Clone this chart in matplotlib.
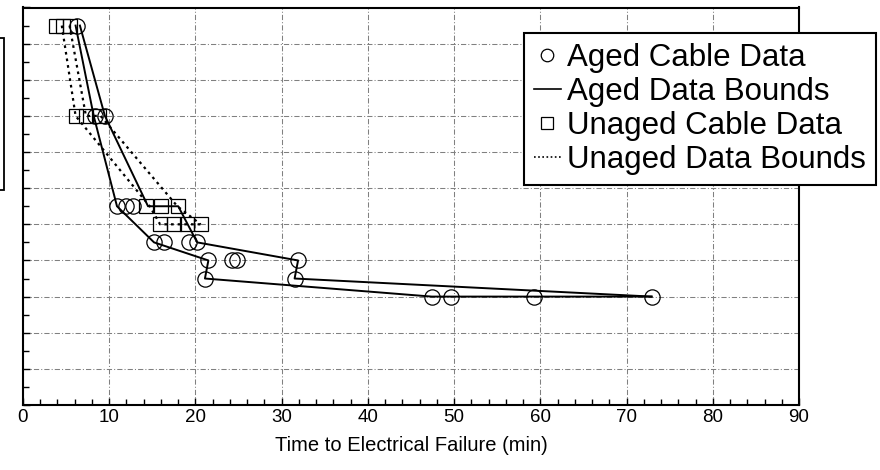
import matplotlib
matplotlib.use('Agg')
import matplotlib.pyplot as plt
from matplotlib import font_manager
from matplotlib.lines import Line2D
from matplotlib.patches import Rectangle
from matplotlib.ticker import MultipleLocator, NullFormatter

plt.rcParams['font.family'] = ['Liberation Sans', 'DejaVu Sans']
installed = {f.name for f in font_manager.fontManager.ttflist}
if 'Liberation Sans Narrow' in installed:
    tick_font, tick_size = 'Liberation Sans Narrow', 15
else:
    tick_font, tick_size = 'Liberation Sans', 13.5

# aged cable data (circles)
aged_x = [6.3, 8.3, 9.5, 10.9, 12.0, 12.7, 15.2, 16.3, 19.2, 20.2,
          21.5, 24.2, 24.8, 31.9, 21.1, 31.5, 47.4, 49.6, 59.3, 72.9]
aged_y = [10.5, 8, 8, 5.5, 5.5, 5.5, 4.5, 4.5, 4.5, 4.5,
          4, 4, 4, 4, 3.5, 3.5, 3, 3, 3, 3]

# unaged cable data (squares)
unaged_x = [3.8, 4.6, 5.4, 6.1, 7.3, 8.8, 14.3, 16.0, 18.0, 15.9, 17.5, 19.0, 20.6]
unaged_y = [10.5, 10.5, 10.5, 8, 8, 8, 5.5, 5.5, 5.5, 5, 5, 5, 5]

# aged data bounds
aged_lo_x = [6.1, 8.2, 10.9, 15.2, 21.5, 21.1, 47.4, 72.9]
aged_lo_y = [10.5, 8, 5.5, 4.5, 4.0, 3.5, 3.0, 3.0]
aged_hi_x = [6.6, 9.5, 14.5, 18.0, 20.2, 31.9, 31.5, 72.9]
aged_hi_y = [10.5, 8, 5.5, 5.5, 4.5, 4.0, 3.5, 3.0]

# unaged data bounds
unaged_lo_x = [4.5, 6.1, 14.7, 15.9, 20.6]
unaged_lo_y = [10.5, 8, 5.5, 5.0, 5.0]
unaged_hi_x = [5.4, 7.3, 9.0, 17.9, 20.6]
unaged_hi_y = [10.5, 8, 8, 5.5, 5.0]

x_ticks = [0, 10, 20, 30, 40, 50, 60, 70, 80, 90]

fig = plt.figure(figsize=(8.8, 4.7), dpi=100)
ax = fig.add_axes([23/880, 65/470, 776/880, 397.5/470])

ax.plot(aged_lo_x, aged_lo_y, color='black', lw=1.4)
ax.plot(aged_hi_x, aged_hi_y, color='black', lw=1.4)
ax.plot(unaged_lo_x, unaged_lo_y, color='black', lw=1.6, ls=(0, (1.2, 1.8)))
ax.plot(unaged_hi_x, unaged_hi_y, color='black', lw=1.6, ls=(0, (1.2, 1.8)))
ax.plot(aged_x, aged_y, ls='none', marker='o', ms=11, mfc='none', mec='black', mew=0.9)
ax.plot(unaged_x, unaged_y, ls='none', marker='s', ms=9.5, mfc='none', mec='black', mew=0.9)

ax.set_xlim(0, 90)
ax.set_ylim(0, 11)
ax.set_xticks(x_ticks)
ax.xaxis.set_minor_locator(MultipleLocator(2))
ax.yaxis.set_major_locator(MultipleLocator(1))
ax.yaxis.set_minor_locator(MultipleLocator(0.5))
ax.yaxis.set_major_formatter(NullFormatter())
ax.tick_params(which='both', direction='in', top=False, right=False)
ax.tick_params(which='major', length=5, width=1)
ax.tick_params(which='minor', length=4, width=1)
ax.tick_params(axis='x', pad=3)
for lab in ax.get_xticklabels():
    lab.set_family([tick_font, 'DejaVu Sans'])
    lab.set_fontsize(tick_size)
ax.grid(True, which='major', color='#808080', lw=0.75, ls=(0, (5, 2, 1, 2)))
for s in ax.spines.values():
    s.set_linewidth(1.5)

ax.set_xlabel('Time to Electrical Failure (min)', fontsize=14.5, labelpad=7)

handles = [
    Line2D([], [], ls='none', marker='o', ms=9, mfc='none', mec='black', mew=0.9),
    Line2D([], [], color='black', lw=1.2),
    Line2D([], [], ls='none', marker='s', ms=8, mfc='none', mec='black', mew=0.9),
    Line2D([], [], color='black', lw=1.2, ls=(0, (1, 1.5))),
]
labels = ['Aged Cable Data', 'Aged Data Bounds', 'Unaged Cable Data', 'Unaged Data Bounds']
leg = fig.legend(handles, labels, loc='upper left', bbox_to_anchor=(524/880, 437/470),
                 frameon=True, fancybox=False, edgecolor='black', framealpha=1,
                 prop={'family': ['Liberation Sans', 'DejaVu Sans'], 'size': 22.5},
                 handlelength=0.85, handletextpad=0.2, borderpad=0.32,
                 labelspacing=0.13, borderaxespad=0)
leg.get_frame().set_linewidth(1.5)

# fragment of a boxed label cut off at the left edge
fig.add_artist(Rectangle((-10/880, 280/470), 13.5/880, 152/470, transform=fig.transFigure,
                         fill=False, lw=1.3, color='black'))

fig.savefig('out.png', dpi=100)
